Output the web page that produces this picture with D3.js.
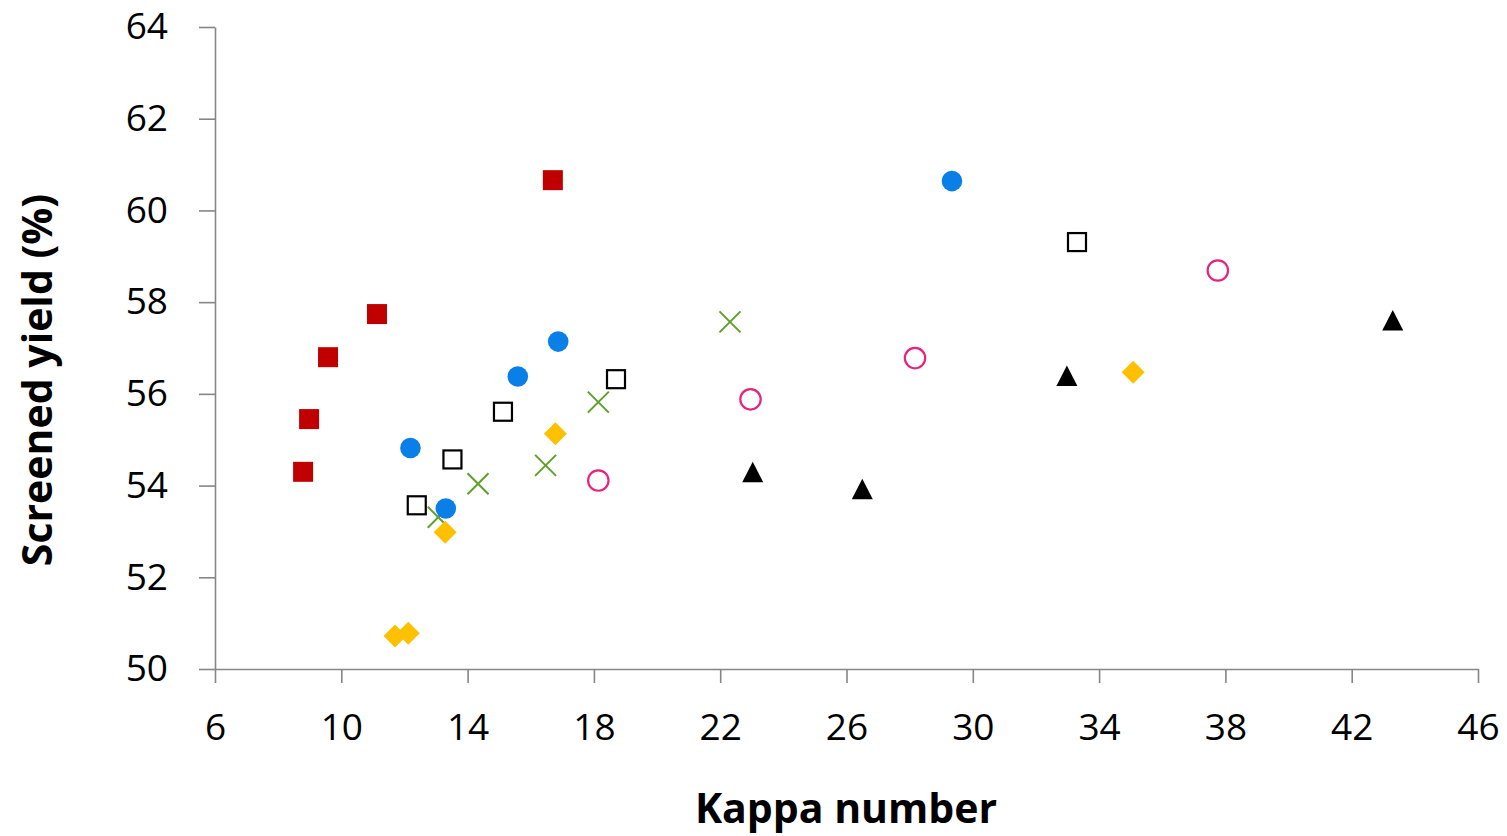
<!DOCTYPE html>
<html>
<head>
<meta charset="utf-8">
<script src="https://cdn.jsdelivr.net/npm/d3@7"></script>
<style>
  html, body { margin: 0; padding: 0; background: #fff; }
  svg { display: block; }
  text { font-family: "Open Sans", "Noto Sans", sans-serif; fill: #000; }
</style>
</head>
<body>
<svg id="chart" width="1507" height="836"></svg>
<script>
// ---- Data ----
const xTicks = [6, 10, 14, 18, 22, 26, 30, 34, 38, 42, 46];
const yTicks = [50, 52, 54, 56, 58, 60, 62, 64];
const xTitle = "Kappa number";
const yTitle = "Screened yield (%)";

const redSquaresX = [16.70, 11.13, 9.58, 8.98, 8.79];
const redSquaresY = [60.66, 57.74, 56.80, 55.45, 54.30];

const blueCirclesX = [29.34, 16.87, 15.59, 12.19, 13.31];
const blueCirclesY = [60.64, 57.14, 56.38, 54.82, 53.50];

const openSquaresX = [33.30, 18.70, 15.12, 13.52, 12.39];
const openSquaresY = [59.31, 56.32, 55.61, 54.57, 53.57];

const greenCrossesX = [22.31, 18.14, 16.47, 14.33, 13.07];
const greenCrossesY = [57.57, 55.82, 54.44, 54.04, 53.31];

const yellowDiamondsX = [35.08, 16.78, 13.29, 12.12, 11.70];
const yellowDiamondsY = [56.47, 55.13, 52.98, 50.78, 50.72];

const pinkCirclesX = [37.76, 28.17, 22.96, 18.14];
const pinkCirclesY = [58.69, 56.78, 55.88, 54.11];

const blackTrianglesX = [43.30, 32.98, 23.03, 26.50];
const blackTrianglesY = [57.60, 56.39, 54.29, 53.92];

// ---- Layout ----
const svg = d3.select("#chart");
const plotLeft = 215, plotRight = 1478, plotTop = 27, plotBottom = 669;
const x = d3.scaleLinear().domain([6, 46]).range([plotLeft, plotRight]);
const y = d3.scaleLinear().domain([50, 64]).range([plotBottom, plotTop]);
const axisColor = "#868686";

// X axis
const gx = svg.append("g").attr("transform", `translate(0,${plotBottom})`)
  .call(d3.axisBottom(x).tickValues(xTicks).tickSize(14).tickSizeOuter(0).tickPadding(31));
gx.select(".domain").attr("stroke", axisColor).attr("stroke-width", 1.6);
gx.selectAll(".tick line").attr("stroke", axisColor).attr("stroke-width", 1.6);
gx.selectAll(".tick text").attr("font-size", 37).attr("fill", "#000")
  .attr("font-family", '"Open Sans", sans-serif');

// Y axis
const gy = svg.append("g").attr("transform", `translate(${plotLeft},0)`)
  .call(d3.axisLeft(y).tickValues(yTicks).tickSize(16).tickSizeOuter(0).tickPadding(31));
gy.select(".domain").attr("stroke", axisColor).attr("stroke-width", 1.6);
gy.selectAll(".tick line").attr("stroke", axisColor).attr("stroke-width", 1.6);
gy.selectAll(".tick text").attr("font-size", 37).attr("fill", "#000")
  .attr("font-family", '"Open Sans", sans-serif');

// Titles
svg.append("text").attr("x", 846).attr("y", 823).attr("text-anchor", "middle")
  .attr("font-size", 41).attr("font-weight", "bold").text(xTitle);
svg.append("text").attr("transform", "translate(52,380) rotate(-90)")
  .attr("text-anchor", "middle").attr("font-size", 41).attr("font-weight", "bold").text(yTitle);

const pts = (xs, ys) => xs.map((v, i) => [v, ys[i]]);
const plot = svg.append("g");

// Red filled squares
plot.selectAll(".rsq").data(pts(redSquaresX, redSquaresY)).join("rect")
  .attr("x", d => x(d[0]) - 10).attr("y", d => y(d[1]) - 10)
  .attr("width", 20).attr("height", 20).attr("fill", "#C00000");

// Open black squares
plot.selectAll(".osq").data(pts(openSquaresX, openSquaresY)).join("rect")
  .attr("x", d => x(d[0]) - 9).attr("y", d => y(d[1]) - 9)
  .attr("width", 18).attr("height", 18).attr("fill", "none")
  .attr("stroke", "#000").attr("stroke-width", 2.2);

// Green crosses
const cs = 10.5;
plot.selectAll(".gx").data(pts(greenCrossesX, greenCrossesY)).join("path")
  .attr("d", d => {
    const cx = x(d[0]), cy = y(d[1]);
    return `M${cx - cs},${cy - cs}L${cx + cs},${cy + cs}M${cx - cs},${cy + cs}L${cx + cs},${cy - cs}`;
  })
  .attr("stroke", "#5FA02C").attr("stroke-width", 2).attr("fill", "none");

// Blue filled circles
plot.selectAll(".bc").data(pts(blueCirclesX, blueCirclesY)).join("circle")
  .attr("cx", d => x(d[0])).attr("cy", d => y(d[1])).attr("r", 10.3)
  .attr("fill", "#0A7FE8");

// Yellow diamonds
const dh = 11.5;
plot.selectAll(".yd").data(pts(yellowDiamondsX, yellowDiamondsY)).join("path")
  .attr("d", d => {
    const cx = x(d[0]), cy = y(d[1]);
    return `M${cx},${cy - dh}L${cx + dh},${cy}L${cx},${cy + dh}L${cx - dh},${cy}Z`;
  })
  .attr("fill", "#FFC000");

// Pink open circles
plot.selectAll(".pc").data(pts(pinkCirclesX, pinkCirclesY)).join("circle")
  .attr("cx", d => x(d[0])).attr("cy", d => y(d[1])).attr("r", 10.2)
  .attr("fill", "none").attr("stroke", "#E8237C").attr("stroke-width", 2.2);

// Black triangles
plot.selectAll(".bt").data(pts(blackTrianglesX, blackTrianglesY)).join("path")
  .attr("d", d => {
    const cx = x(d[0]), cy = y(d[1]);
    return `M${cx},${cy - 10.5}L${cx + 10.5},${cy + 10}L${cx - 10.5},${cy + 10}Z`;
  })
  .attr("fill", "#000");
</script>
</body>
</html>
